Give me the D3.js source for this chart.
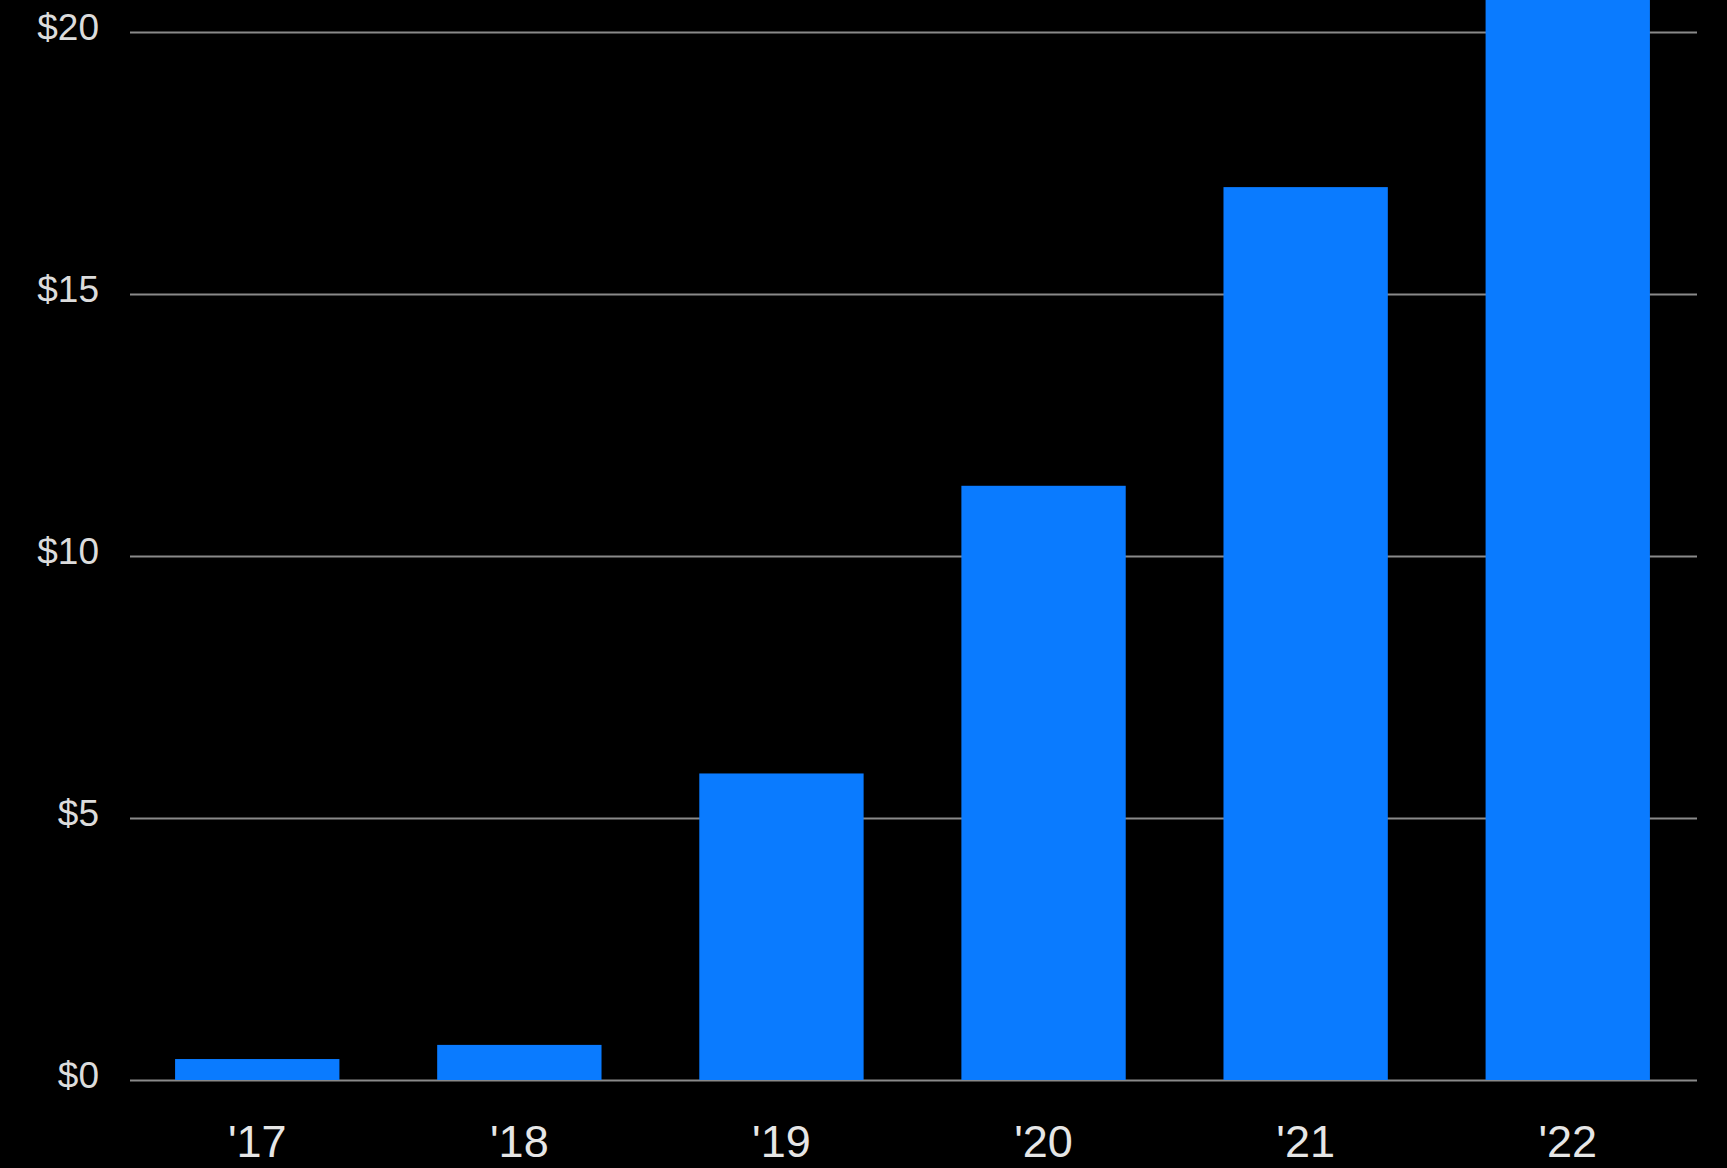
<!DOCTYPE html>
<html>
<head>
<meta charset="utf-8">
<script src="https://cdn.jsdelivr.net/npm/d3@7"></script>
<style>
  html, body { margin: 0; padding: 0; background: #000; }
  svg { display: block; }
</style>
</head>
<body>
<svg id="chart" width="1727" height="1168"></svg>
<script>
const categories = ["'17", "'18", "'19", "'20", "'21", "'22"];
const values = [0.40, 0.67, 5.85, 11.34, 17.04, 22.0];
const yTicks = [0, 5, 10, 15, 20];
const yTickLabels = ["$0", "$5", "$10", "$15", "$20"];

const svg = d3.select("#chart");
const W = 1727, H = 1168;
svg.append("rect").attr("width", W).attr("height", H).attr("fill", "#000");

const x = d3.scaleBand()
  .domain(categories)
  .range([130, 1695])
  .paddingInner(0.373)
  .paddingOuter(0.172);

const y = d3.scaleLinear().domain([0, 20]).range([1080, 32]);

// gridlines via axis
const gridAxis = d3.axisLeft(y).tickValues(yTicks).tickSize(-(1697 - 130)).tickFormat("");
const grid = svg.append("g").attr("transform", "translate(130,0)").call(gridAxis);
grid.select(".domain").remove();
grid.selectAll("line").attr("stroke", "#8a8a8a").attr("stroke-width", 2.2);

// bars
svg.append("g").selectAll("rect")
  .data(categories)
  .join("rect")
  .attr("x", d => x(d))
  .attr("width", x.bandwidth())
  .attr("y", (d, i) => y(values[i]))
  .attr("height", (d, i) => y(0) - y(values[i]))
  .attr("fill", "#0a7bff");

// y labels
const yAxis = d3.axisLeft(y).tickValues(yTicks).tickSize(0).tickPadding(0)
  .tickFormat((d, i) => yTickLabels[i]);
const yg = svg.append("g").attr("transform", "translate(99,-5)").call(yAxis);
yg.select(".domain").remove();
yg.selectAll("text")
  .attr("fill", "#dcdcdc")
  .attr("font-family", "'Liberation Sans', Arial, Helvetica, sans-serif")
  .attr("font-size", 37)
  .attr("dy", "0.35em");

// x labels
const xAxis = d3.axisBottom(x).tickSize(0).tickPadding(0);
const xg = svg.append("g").attr("transform", "translate(0,1157)").call(xAxis);
xg.select(".domain").remove();
xg.selectAll("text")
  .attr("fill", "#e6e6e6")
  .attr("font-family", "'Liberation Sans', Arial, Helvetica, sans-serif")
  .attr("font-size", 45)
  .attr("dy", 0)
  .attr("y", 0);
</script>
</body>
</html>
